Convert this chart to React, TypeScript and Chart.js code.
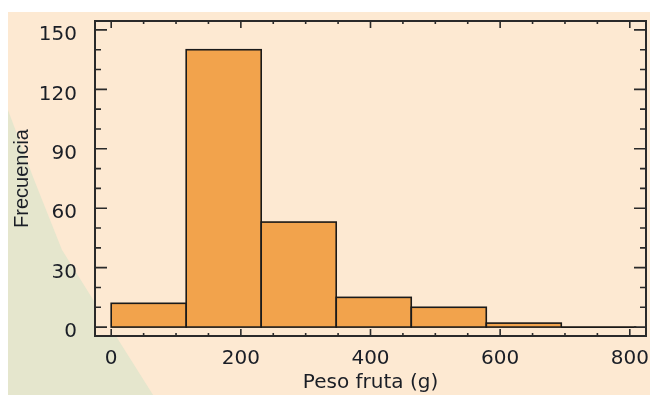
import React, { useEffect, useRef } from "react";
import { Chart, registerables } from "chart.js";

Chart.register(...registerables);

// Histogram data
const binEdges = [0, 115.7, 231.4, 347.1, 462.9, 578.6, 694.3, 810];
const counts = [12, 140, 53, 15, 10, 2, 0];

// Axis settings
const xTickValues = [0, 200, 400, 600, 800];
const yTickValues = [0, 30, 60, 90, 120, 150];
const xMinorStep = 50;
const yMinorStep = 10;
const xRange = [-25, 825];
const yRange = [-4.5, 154.5];

const xTitle = "Peso fruta (g)";
const yTitle = "Frecuencia";

const BG = "#fde9d2";
const GREEN = "#e5e6cd";
const BAR = "#f2a34c";
const INK = "#1a1e26";

const decorPlugin = {
  id: "decor",
  beforeDraw(chart: any) {
    const { ctx, width, height, chartArea } = chart;
    ctx.save();
    ctx.fillStyle = BG;
    ctx.fillRect(0, 0, width, height);
    // green curved region bottom-left
    ctx.fillStyle = GREEN;
    ctx.beginPath();
    ctx.moveTo(0, height * 0.256);
    ctx.lineTo(width * 0.039, height * 0.431);
    ctx.lineTo(width * 0.084, height * 0.621);
    ctx.lineTo(width * 0.159, height * 0.822);
    ctx.lineTo(width * 0.226, height);
    ctx.lineTo(0, height);
    ctx.closePath();
    ctx.fill();
    // plot area
    ctx.fillStyle = BG;
    ctx.fillRect(
      chartArea.left,
      chartArea.top,
      chartArea.right - chartArea.left,
      chartArea.bottom - chartArea.top
    );
    ctx.restore();
  },
  afterDatasetsDraw(chart: any) {
    const { ctx } = chart;
    const meta = chart.getDatasetMeta(0);
    ctx.save();
    ctx.strokeStyle = "#1a1a1a";
    ctx.lineWidth = 1.6;
    meta.data.forEach((el: any) => {
      const { x, y, base, width } = el.getProps(["x", "y", "base", "width"], true);
      ctx.strokeRect(x - width / 2, Math.min(y, base), width, Math.abs(base - y));
    });
    ctx.restore();
  },
  afterDraw(chart: any) {
    const { ctx, chartArea } = chart;
    const xs = chart.scales.x;
    const ys = chart.scales.y;
    const { left, right, top, bottom } = chartArea;
    ctx.save();
    ctx.strokeStyle = "#2a2a2a";
    ctx.lineWidth = 1.6;
    // x ticks
    for (let v = Math.ceil(xRange[0] / xMinorStep) * xMinorStep; v <= xRange[1]; v += xMinorStep) {
      const px = xs.getPixelForValue(v);
      const major = xTickValues.includes(v);
      const len = major ? 7 : 3;
      ctx.beginPath();
      ctx.moveTo(px, bottom);
      ctx.lineTo(px, bottom - len);
      ctx.moveTo(px, top);
      ctx.lineTo(px, top + len);
      ctx.stroke();
    }
    // y ticks
    for (let v = Math.ceil(yRange[0] / yMinorStep) * yMinorStep; v <= yRange[1]; v += yMinorStep) {
      const py = ys.getPixelForValue(v);
      const major = yTickValues.includes(v);
      const len = major ? 12 : 6;
      ctx.beginPath();
      ctx.moveTo(left, py);
      ctx.lineTo(left + len, py);
      ctx.moveTo(right, py);
      ctx.lineTo(right - len, py);
      ctx.stroke();
    }
    // frame
    ctx.lineWidth = 2;
    ctx.strokeRect(left, top, right - left, bottom - top);
    ctx.restore();
  },
};

const noPad = (s: any) => {
  s.paddingTop = 0;
  s.paddingBottom = 0;
  s.paddingLeft = 0;
  s.paddingRight = 0;
};

export default function App() {
  const ref = useRef<HTMLCanvasElement | null>(null);

  useEffect(() => {
    if (!ref.current) return;
    const centers = counts.map((_, i) => (binEdges[i] + binEdges[i + 1]) / 2);
    const chart = new Chart(ref.current, {
      type: "bar",
      data: {
        datasets: [
          {
            data: counts.map((c, i) => ({ x: centers[i], y: c })),
            backgroundColor: BAR,
            borderWidth: 0,
            barPercentage: 1,
            categoryPercentage: 1,
            grouped: false,
          } as any,
        ],
      },
      options: {
        animation: false,
        responsive: false,
        devicePixelRatio: 1,
        layout: { padding: { top: 9, right: 4, left: 0, bottom: 0 } },
        plugins: {
          legend: { display: false },
          tooltip: { enabled: false },
        },
        scales: {
          x: {
            type: "linear",
            min: xRange[0],
            max: xRange[1],
            offset: false,
            grid: { display: false },
            border: { display: false },
            afterBuildTicks: (s: any) => {
              s.ticks = xTickValues.map((v) => ({ value: v }));
            },
            afterFit: (s: any) => {
              s.height = 59;
              noPad(s);
            },
            ticks: {
              padding: 3,
              maxRotation: 0,
              autoSkip: false,
              color: INK,
              font: { family: "DejaVu Sans", size: 20 },
            },
            title: {
              display: true,
              text: xTitle,
              color: INK,
              padding: { top: 0, bottom: 0 },
              font: { family: "DejaVu Sans", size: 20 },
            },
          },
          y: {
            type: "linear",
            min: yRange[0],
            max: yRange[1],
            grid: { display: false },
            border: { display: false },
            afterBuildTicks: (s: any) => {
              s.ticks = yTickValues.map((v) => ({ value: v }));
            },
            afterFit: (s: any) => {
              s.width = 87;
              noPad(s);
            },
            ticks: {
              padding: 10,
              labelOffset: 5,
              autoSkip: false,
              color: INK,
              font: { family: "DejaVu Sans", size: 20 },
            },
            title: {
              display: true,
              text: yTitle,
              color: INK,
              padding: { top: 2, bottom: 0 },
              font: { family: "Liberation Sans", size: 20 },
            },
          },
        },
      },
      plugins: [decorPlugin],
    });
    return () => chart.destroy();
  }, []);

  return (
    <div
      style={{
        position: "fixed",
        left: 8,
        top: 12,
        width: 642,
        height: 383,
      }}
    >
      <canvas ref={ref} width={642} height={383} style={{ width: 642, height: 383, display: "block" }} />
    </div>
  );
}
